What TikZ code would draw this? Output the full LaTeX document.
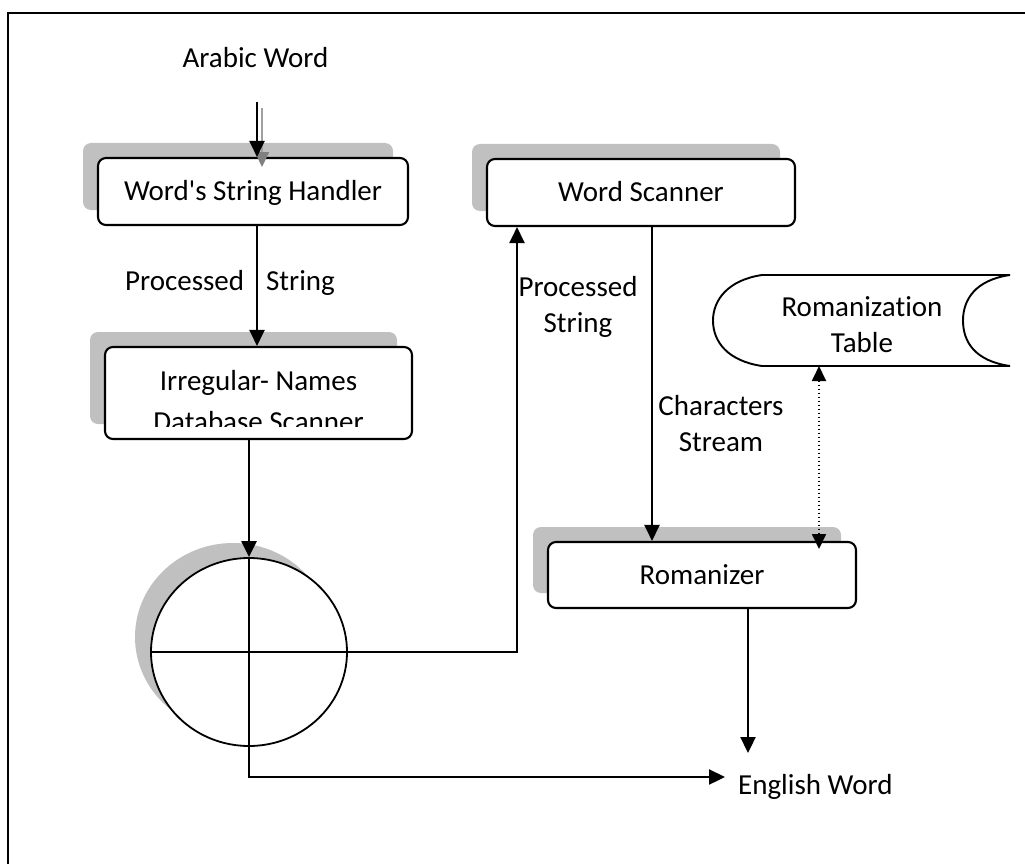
\documentclass[tikz,border=0pt]{standalone}
\usepackage{fontspec}
\setmainfont[Ligatures=NoCommon]{Carlito}
\usetikzlibrary{arrows.meta,shapes.geometric,shadows}
\definecolor{shadowgray}{HTML}{C0C0C0}
\definecolor{arrowgray}{HTML}{808080}
\definecolor{linegray}{HTML}{A0A0A0}
\begin{document}
\begin{tikzpicture}[x=1pt,y=-1pt,
  every node/.style={font=\fontsize{29}{36}\selectfont, inner sep=0pt},
  procbox/.style={draw, line width=2.1pt, rounded corners=8pt, fill=white,
    minimum height=67pt, text height=20pt, text depth=2pt,
    general shadow={fill=shadowgray, draw=none, shadow xshift=-15pt, shadow yshift=15pt}},
  arr/.style={line width=2.3pt, -{Triangle[length=16pt,width=15pt]}},
  grayarr/.style={line width=1.8pt, draw=linegray, -{Triangle[length=15pt,width=14pt,fill=arrowgray,color=arrowgray]}},
  dotarr/.style={line width=1.8pt, dash pattern=on 1.8pt off 2.2pt,
    {Triangle[length=15pt,width=14pt]}-{Triangle[length=15pt,width=14pt]}},
  thin line/.style={line width=1.8pt}
]
\useasboundingbox (0,0) rectangle (1025,864);
% frame
\draw[line width=2.4pt] (8,864) -- (8,13) -- (1025,13);

% boxes
\node[procbox, minimum width=310pt] (hs) at (253,191.5) {Word\textquotesingle s String Handler};
\node[procbox, minimum width=307pt, minimum height=92pt] (irr) at (258.5,393) {};
\begin{scope}
  \clip (106,348) rectangle (411,426);
  \node[anchor=base] (irrA) at (258.5,390) {Irregular- Names};
  \node[anchor=base] (irrB) at (258.5,431) {Database Scanner};
\end{scope}
\node[procbox, minimum width=308pt] (ws) at (641,192.5) {Word Scanner};
\node[procbox, minimum width=308pt, minimum height=66pt] (rom) at (702,575) {Romanizer};

% combiner circle
\node[ellipse, draw, thin line, fill=white, minimum width=196pt, minimum height=188pt,
  general shadow={fill=shadowgray, draw=none, shadow xshift=-16pt, shadow yshift=15pt}] (circ) at (249,652) {};
\draw[thin line] (circ.west) -- (circ.east) (circ.north) -- (circ.south);

% romanization table (stored data)
\draw[line width=1.9pt, fill=white] (762,275) -- (1010,275)
  .. controls (975,280) and (963,300) .. (963,320.5)
  .. controls (963,342) and (975,361) .. (1010,366)
  -- (762,366)
  .. controls (728,361) and (713,342) .. (713,320.5)
  .. controls (713,300) and (728,280) .. (762,275) -- cycle;
\node[align=center] (rt) at (862,325) {Romanization\\Table};

% texts
\node[anchor=base] (arb) at (255.5,68) {Arabic Word};
\node[anchor=base west] (eng) at (738,794) {English Word};
\node[anchor=base] (ps1) at (230,290) {Processed\hspace{22pt}String};
\node[align=center] (ps2) at (578,307) {Processed\\String};
\node[align=center] (cs) at (721,424) {Characters\\Stream};

% connectors
\coordinate (a1) at (257,102);
\coordinate (a2) at (262,108);
\coordinate (a2end) at (262,167);
\draw[grayarr] (a2) -- (a2end);
\draw[arr] (a1) -- (a1 |- hs.north);
\draw[arr] (hs.south -| a1) -- (irr.north -| a1);
\draw[arr] (irr.south -| circ.north) -- (circ.north);
\coordinate (k1) at (517,652);
\draw[arr] (circ.east) -- (k1) -- (k1 |- ws.south);
\coordinate (e1) at (725,777);
\draw[arr] (circ.south) -- (circ.south |- e1) -- (e1);
\coordinate (w1) at (652,226);
\draw[arr] (ws.south -| w1) -- (rom.north -| w1);
\coordinate (d1) at (819,366);
\coordinate (d2) at (819,549);
\draw[dotarr] (d1) -- (d2);
\coordinate (r1) at (748,753);
\draw[arr] (rom.south -| r1) -- (r1);
\end{tikzpicture}
\end{document}
